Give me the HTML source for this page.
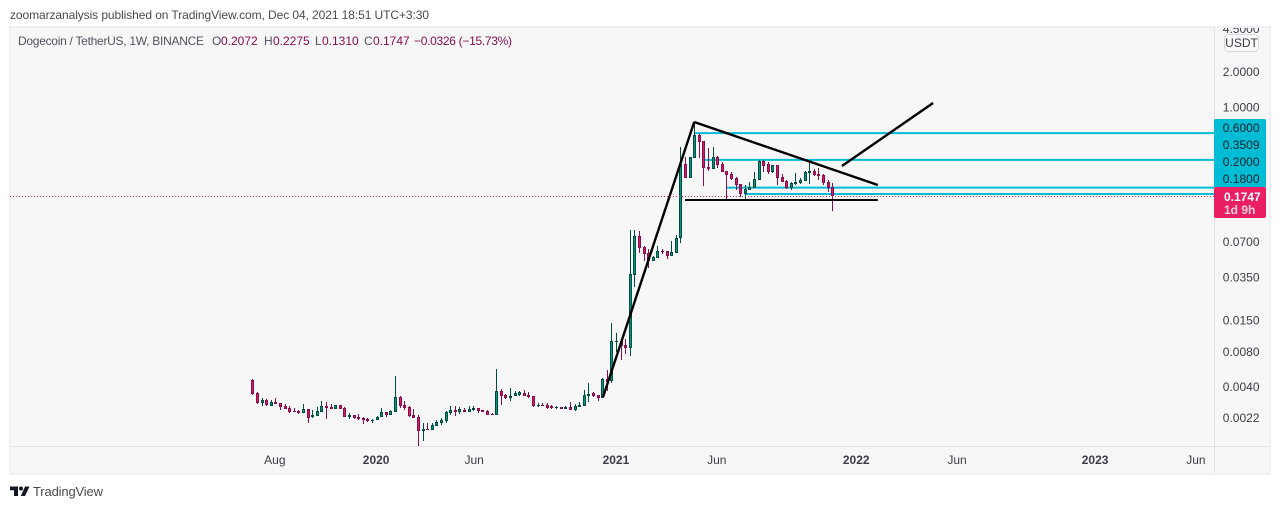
<!DOCTYPE html>
<html lang="en">
<head>
<meta charset="utf-8">
<title>Dogecoin / TetherUS chart</title>
<style>
html,body{margin:0;padding:0;background:#fff;width:1280px;height:509px;overflow:hidden}
svg{position:absolute;left:0;top:0;display:block}
text{font-family:"Liberation Sans",sans-serif;font-size:12px}
</style>
</head>
<body>
<svg id="chart" xmlns="http://www.w3.org/2000/svg" width="1280" height="509" viewBox="0 0 1280 509">
  <defs>
    <clipPath id="pane-clip"><rect x="10" y="28" width="1204" height="418"></rect></clipPath>
    <clipPath id="axis-clip"><rect x="1215" y="28" width="55" height="418"></rect></clipPath>
  </defs>
  <text x="10" y="19" fill="#4a4a4a" textLength="419" lengthAdjust="spacing">zoomarzanalysis published on TradingView.com, Dec 04, 2021 18:51 UTC+3:30</text>
  <rect x="9" y="26" width="1262" height="449" fill="#eff0f4"></rect>
  <rect x="11" y="28" width="1203" height="418" fill="#f7f7f7"></rect>
  <rect x="1215" y="28" width="54" height="418" fill="#f7f7f7"></rect>
  <rect x="11" y="447" width="1258" height="26" fill="#f7f7f7"></rect>
  <rect x="11" y="446" width="1258" height="1" fill="#e0e0e0"></rect>
  <rect x="1214" y="28" width="1" height="445" fill="#e0e0e0"></rect>
  <g id="hlines" clip-path="url(#pane-clip)"></g>
  <g id="candles" clip-path="url(#pane-clip)" shape-rendering="crispEdges"></g>
  <g id="trends" clip-path="url(#pane-clip)"></g>
  <g id="lastline" clip-path="url(#pane-clip)"></g>
  <g id="yticks" clip-path="url(#axis-clip)"></g>
  <g id="xticks"></g>
  <g id="level-labels"></g>
  <g>
    <rect x="1224.5" y="34.5" width="34" height="17" rx="4" fill="#f9f9fa" stroke="#d6d8de"></rect>
    <text x="1241.5" y="47" text-anchor="middle" fill="#3a3d46">USDT</text>
  </g>
  <g>
    <rect x="1214" y="187" width="52" height="31" rx="2" fill="#e91e63"></rect>
    <text x="1224" y="201" fill="#ffffff" font-weight="bold" style="font-weight:bold">0.1747</text>
    <text x="1224" y="214" fill="#fbd0df" font-weight="bold" style="font-weight:bold">1d 9h</text>
  </g>
  <g>
    <text x="18" y="45" fill="#50535e" textLength="186" lengthAdjust="spacing">Dogecoin / TetherUS, 1W, BINANCE</text>
    <text x="212" y="45" fill="#50535e">O</text>
    <text x="221" y="45" fill="#880e4f">0.2072</text>
    <text x="264" y="45" fill="#50535e">H</text>
    <text x="273" y="45" fill="#880e4f">0.2275</text>
    <text x="315" y="45" fill="#50535e">L</text>
    <text x="322" y="45" fill="#880e4f">0.1310</text>
    <text x="364" y="45" fill="#50535e">C</text>
    <text x="373" y="45" fill="#880e4f">0.1747</text>
    <text x="414" y="45" fill="#880e4f" textLength="98" lengthAdjust="spacing">−0.0326 (−15.73%)</text>
  </g>
  <g>
    <path d="M10 486.5H18V496H14V490.2H10Z M25 486.5H29.5L25 496H20.8Z" fill="#131722"></path>
    <circle cx="21" cy="488.5" r="2" fill="#131722"></circle>
    <text x="33" y="496" fill="#4a4a4a" style="font-size:13px" textLength="70" lengthAdjust="spacing">TradingView</text>
  </g>
</svg>
<script>
const opens=[.00477,.0037,.00304,.00323,.00287,.0031,.00304,.00287,.00276,.0026,
.0026,.0025,.00271,.00231,.00236,.00255,.00287,.00281,.00271,.00293,
.00276,.00231,.00241,.00231,.00227,.00222,.00214,.00218,.00231,.00255,
.00241,.00255,.00342,.00293,.00281,.00241,.00231,.00176,.00183,.00179,
.00194,.00206,.00214,.0025,.00265,.00255,.00265,.00255,.00265,.00276,
.00265,.0026,.00245,.00241,.00385,.00356,.00335,.00349,.00356,.0037,
.00356,.00349,.00287,.00293,.00293,.00287,.00276,.00281,.00271,.00281,
.00265,.00281,.00287,.00349,.0037,.00356,.00335,.00487,
.00468,.01004,.01024,.00947,.00892,.0373,.0801,.0645,.0573,.049,
.052,.0596,.0596,.0541,.0573,.077,.3276,.2491,.3684,.578,
.5147,.3089,.297,.3757,.3276,.2856,.2694,.2491,.2214,.182,
.1968,.2047,.2395,.3473,.3276,.28,.3212,.254,.2348,.2047,
.2214,.2258,.2348,.2747,.2856,.2694,.2642,.2303,.2072];
const highs=[.00487,.00377,.00335,.00329,.00323,.00335,.00304,.00298,.00287,.00276,
.00265,.00298,.00271,.00265,.00281,.00316,.0031,.00298,.00293,.00293,
.00281,.0025,.00241,.00245,.00231,.00227,.00222,.00236,.00276,.00255,
.00265,.00516,.00349,.00316,.00287,.00271,.00241,.00206,.00206,.00206,
.00218,.00227,.0026,.00287,.00287,.00281,.00276,.00287,.00287,.00276,
.00265,.00265,.0025,.00592,.004,.00363,.00408,.00385,.00385,.00392,
.00377,.00349,.00304,.00304,.00304,.00293,.00287,.00281,.00287,.0031,
.00298,.0031,.00392,.0045,.00377,.00356,.00496,.0058,
.01457,.01197,.01065,.01065,.09,.09,.0882,.0658,.062,.054,
.0658,.062,.0596,.0725,.0816,.457,.3757,.3757,.7455,.5895,
.5147,.4481,.457,.3831,.3407,.2856,.28,.254,.2214,.2171,
.2303,.28,.3543,.3543,.3407,.3212,.3212,.2694,.2395,.2303,
.2747,.2491,.2856,.3543,.297,.3029,.2694,.2395,.2275];
const lows=[.00356,.00298,.00287,.00287,.00287,.00298,.00265,.00271,.0025,.00255,
.00245,.0025,.00206,.00227,.00236,.00255,.00222,.00271,.00271,.00271,
.00231,.00222,.00222,.00218,.00202,.0021,.00206,.00218,.00231,.00231,
.00241,.00255,.00276,.00265,.00231,.00227,.00131,.00144,.00179,.00179,
.00194,.00198,.00206,.00241,.00236,.00245,.00255,.00255,.0026,.0025,
.00255,.00241,.00241,.00241,.00293,.00329,.00316,.00349,.00349,.00349,
.00335,.00281,.00281,.00287,.00271,.00271,.00271,.00271,.00271,.00265,
.0026,.00281,.00287,.0031,.00342,.00316,.00335,.00385,
.0045,.00825,.00705,.00793,.00763,.0295,.0573,.049,.0428,.049,
.052,.0562,.051,.0541,.0573,.0698,.2491,.2491,.3684,.3684,
.2129,.2856,.297,.3029,.28,.1651,.2395,.1968,.1717,.1619,
.1968,.2047,.2395,.28,.2694,.2747,.2171,.2303,.2008,.1968,
.2171,.2214,.2348,.2214,.259,.2395,.2171,.1893,.131];
const closes=[.00363,.00304,.00323,.00293,.0031,.00298,.00281,.00271,.00255,.00255,
.0025,.00271,.00227,.00241,.0026,.00287,.00276,.00271,.00293,.00271,
.00231,.00241,.00227,.00222,.00218,.00214,.00218,.00231,.00255,.00241,
.0026,.00342,.00287,.00276,.00236,.00227,.00176,.00183,.00179,.00198,
.0021,.00218,.00255,.00265,.00255,.00271,.00255,.00271,.00276,.0026,
.00255,.00241,.00241,.00385,.00349,.00335,.00349,.0037,.00377,.00349,
.00342,.00287,.00293,.00287,.00276,.00276,.00281,.00271,.00281,.00265,
.00287,.00293,.00356,.00363,.00349,.00335,.00487,.00459,
.01024,.01024,.00928,.00892,.038,.0801,.0632,.0562,.049,.053,
.0596,.0585,.0541,.0585,.077,.3276,.2491,.3757,.578,.5047,
.3029,.297,.3757,.3212,.28,.2642,.2442,.2171,.182,.2008,
.2088,.2442,.3473,.315,.28,.3212,.2491,.2303,.2047,.2258,
.2303,.2395,.28,.2856,.2642,.259,.2258,.2047,.1747];
const priceTicks=[4.65,2,1,0.0715,0.0358,0.0154,0.0083,0.0042,0.0023];
const priceTickLabels=["4.5000","2.0000","1.0000","0.0700","0.0350","0.0150","0.0080","0.0040","0.0022"];
const timeTickBars=[4.9,26.9,48.2,79,100.9,131.2,153.1,183.1,205];
const timeTickLabels=["Aug","2020","Jun","2021","Jun","2022","Jun","2023","Jun"];
const levelPrices=[0.6,0.355,0.206,0.182];
const levelStartBars=[96,98.4,103,107];
const levelLabels=["0.6000","0.3509","0.2000","0.1800"];
const trendStartBars=[76.2,96,94,128.1];
const trendStartPrices=[0.00342,0.7455,0.1619,0.315];
const trendEndBars=[96,135.9,135.9,147.9];
const trendEndPrices=[0.7455,0.2171,0.1619,1.0815];
const lastPrice=0.1747;

const NS='http://www.w3.org/2000/svg';
function xScale(bar){return 252.3+4.603*bar;}
function yScale(price){return 107-35.4*Math.log2(price);}
function make(tag,parent){
  const el=document.createElementNS(NS,tag);
  parent.appendChild(el);
  return el;
}
function setAll(el,props){
  for(const k in props){el.setAttribute(k,props[k]);}
}

const hlineGroup=document.getElementById('hlines');
levelPrices.forEach(function(p,i){
  const line=make('line',hlineGroup);
  
  
  setAll(line,{x1:xScale(levelStartBars[i]),x2:1214,y1:yScale(p),y2:yScale(p),stroke:'#00bcd4','stroke-width':2});
});

const candleGroup=document.getElementById('candles');
opens.forEach(function(o,i){
  const c=closes[i];
  const up=c>=o;
  const dark=up?'#004d40':'#880e4f';
  const fill=up?'#009688':'#d81b60';
  const cx=Math.round(xScale(i));
  const g=make('g',candleGroup);
  
  
  const wickTop=Math.round(yScale(highs[i]));
  const wickBottom=Math.round(yScale(lows[i]));
  const wick=make('rect',g);
  
  
  setAll(wick,{x:cx,y:wickTop,width:1,height:Math.max(1,wickBottom-wickTop),fill:dark});
  const top=Math.round(yScale(Math.max(o,c)));
  const bottom=Math.round(yScale(Math.min(o,c)));
  const h=Math.max(1,bottom-top);
  const body=make('rect',g);
  
  
  setAll(body,{x:cx-1,y:top,width:3,height:h,fill:dark});
  if(h>=3){
    const inner=make('rect',g);
    
    
    setAll(inner,{x:cx,y:top+1,width:1,height:h-2,fill:fill});
  }
});

const trendGroup=document.getElementById('trends');
trendStartBars.forEach(function(b,i){
  const line=make('line',trendGroup);
  
  
  const flat=trendStartPrices[i]===trendEndPrices[i];
  setAll(line,{x1:xScale(b),y1:yScale(trendStartPrices[i]),x2:xScale(trendEndBars[i]),y2:yScale(trendEndPrices[i]),stroke:'#000000','stroke-width':flat?2:2.4});
});

const lastGroup=document.getElementById('lastline');
const lastLine=make('line',lastGroup);


setAll(lastLine,{x1:10,x2:1214,y1:Math.floor(yScale(lastPrice))+0.5,y2:Math.floor(yScale(lastPrice))+0.5,stroke:'#e91e63','stroke-width':1,'stroke-dasharray':'1 2'});

const yTickGroup=document.getElementById('yticks');
priceTicks.forEach(function(p,i){
  const t=make('text',yTickGroup);
  
  
  setAll(t,{x:1259.5,y:yScale(p)+4.5,'text-anchor':'end',fill:'#3a3d46'});
  t.textContent=priceTickLabels[i];
});

const xTickGroup=document.getElementById('xticks');
timeTickBars.forEach(function(b,i){
  const t=make('text',xTickGroup);
  
  
  const isYear=/^\d/.test(timeTickLabels[i]);
  setAll(t,{x:xScale(b),y:464,'text-anchor':'middle',fill:'#3a3d46'});
  if(isYear){t.style.fontWeight='bold';}
  t.textContent=timeTickLabels[i];
});

const levelLabelGroup=document.getElementById('level-labels');
const levelBack=make('rect',levelLabelGroup);


setAll(levelBack,{x:1214,y:119,width:52,height:69,rx:2,fill:'#00bcd4'});
levelLabels.forEach(function(label,i){
  const t=make('text',levelLabelGroup);
  
  
  setAll(t,{x:1259.5,y:132+i*17,'text-anchor':'end',fill:'#10222a'});
  t.textContent=label;
});
</script>
</body>
</html>
